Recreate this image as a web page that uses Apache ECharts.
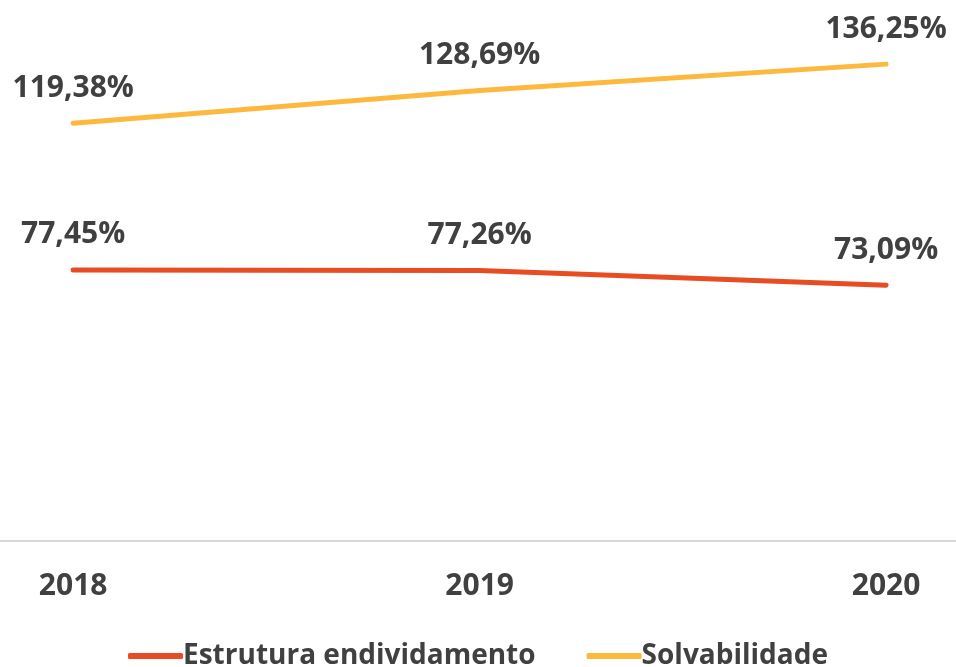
<!DOCTYPE html>
<html>
<head>
<meta charset="utf-8">
<script src="https://cdn.jsdelivr.net/npm/echarts@6/dist/echarts.min.js"></script>
<style>
  html, body { margin: 0; padding: 0; background: #fff; }
  #chart { width: 956px; height: 667px; }
</style>
</head>
<body>
<div id="chart"></div>
<script>
// data
const years = [2018, 2019, 2020];
const estrutura = [77.45, 77.26, 73.09];
const solvabilidade = [119.38, 128.69, 136.25];
const seriesNames = ['Estrutura endividamento', 'Solvabilidade'];

const textColor = '#404040';
const fontFamily = '"Open Sans", sans-serif';

const toPairs = (vals) => vals.map((v, i) => [years[i], v]);
const pct = (p) => p.value[1].toFixed(2).replace('.', ',') + '%';

const chart = echarts.init(document.getElementById('chart'));

const lineSeries = (name, vals, color) => ({
  name,
  type: 'line',
  data: toPairs(vals),
  symbol: 'circle',
  symbolSize: 0,
  showSymbol: true,
  lineStyle: { color, width: 5, cap: 'round' },
  itemStyle: { color },
  label: {
    show: true,
    position: 'top',
    distance: 20,
    formatter: pct,
    color: textColor,
    fontFamily,
    fontWeight: 'bold',
    fontSize: 30,
  },
});

chart.setOption({
  animation: false,
  grid: { left: 0, right: 0, top: 16, bottom: 126 },
  xAxis: {
    type: 'value',
    min: 2017.82,
    max: 2020.172,
    splitLine: { show: false },
    axisTick: { show: false },
    axisLine: { show: true, lineStyle: { color: '#d9d9d9', width: 2 } },
    axisLabel: {
      customValues: years,
      formatter: (v) => String(v),
      margin: 30,
      color: textColor,
      fontFamily,
      fontWeight: 'bold',
      fontSize: 30,
    },
  },
  yAxis: { type: 'value', min: 0, max: 150, show: false },
  legend: {
    bottom: -8,
    left: 'center',
    itemWidth: 55,
    itemHeight: 6,
    itemGap: 51,
    icon: 'roundRect',
    data: seriesNames,
    textStyle: { color: textColor, fontFamily, fontWeight: 'bold', fontSize: 28, padding: [0, 0, 0, -5] },
  },
  series: [
    lineSeries(seriesNames[0], estrutura, '#E84C22'),
    lineSeries(seriesNames[1], solvabilidade, '#FDB93E'),
  ],
});
</script>
</body>
</html>
